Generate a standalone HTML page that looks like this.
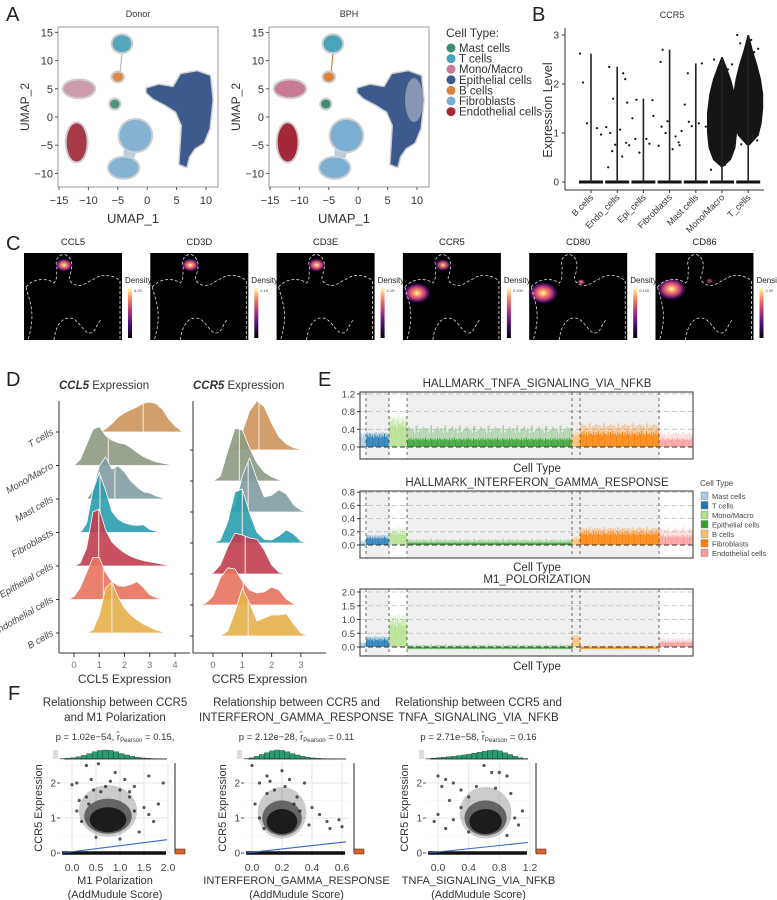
<!DOCTYPE html>
<html><head><meta charset="utf-8">
<style>
body{margin:0;background:#fff;}
svg{display:block;font-family:"Liberation Sans",sans-serif;}
</style></head>
<body>
<svg id="fig" width="777" height="900" viewBox="0 0 777 900">
<defs>
<radialGradient id="hot">
<stop offset="0" stop-color="#fcfdbf"/><stop offset="0.3" stop-color="#fc8961"/><stop offset="0.6" stop-color="#b73779"/><stop offset="0.85" stop-color="#51127c" stop-opacity="0.6"/><stop offset="1" stop-color="#000" stop-opacity="0"/>
</radialGradient>
<linearGradient id="magma" x1="0" y1="1" x2="0" y2="0">
<stop offset="0" stop-color="#000004"/><stop offset="0.3" stop-color="#51127c"/><stop offset="0.55" stop-color="#b73779"/><stop offset="0.8" stop-color="#fc8961"/><stop offset="1" stop-color="#fcfdbf"/>
</linearGradient>
</defs>
<text x="6" y="21" font-size="20" fill="#222">A</text>
<text x="532" y="21" font-size="20" fill="#222">B</text>
<text x="6" y="250" font-size="20" fill="#222">C</text>
<text x="6" y="386" font-size="20" fill="#222">D</text>
<text x="318" y="386" font-size="20" fill="#222">E</text>
<text x="8" y="700" font-size="20" fill="#222">F</text>
</svg>
<script>
const NS='http://www.w3.org/2000/svg';
const svg=document.getElementById('fig');
function mk(tag,attrs,parent){const e=document.createElementNS(NS,tag);for(const k in attrs)e.setAttribute(k,attrs[k]);(parent||svg).appendChild(e);return e;}
function tx(s,attrs,parent){const e=mk('text',attrs,parent);e.textContent=s;return e;}

/* ---------------- Panel A data ---------------- */
const umapTypes=['Mast cells','T cells','Mono/Macro','Epithelial cells','B cells','Fibroblasts','Endothelial cells'];
const umapColors=['#3e8e6e','#4aa3ba','#c97a96','#3d5a8c','#d9823b','#7baed3','#a3283a'];
const umapXTicks=[-15,-10,-5,0,5,10];
const umapYTicks=[15,10,5,0,-5,-10];
const clusterType=[1,4,2,0,6,5,5];
const clusterX=[-4.3,-5,-11.6,-5.5,-12,-2,-4];
const clusterY=[13,7.1,5,2.3,-4.5,-3.3,-9];
const clusterRX=[1.6,0.9,2.6,0.8,1.7,2.7,2.5];
const clusterRY=[1.5,0.8,1.5,0.8,3.4,2.8,1.8];
const epiX=[0,2,4.5,5.8,8.5,10.6,11,10.5,9.5,8,7,6.6,5.6,5.8,6,5,3,1,0];
const epiY=[5,5.6,5.2,7.5,8,7.2,3,-2,-4.5,-5.5,-7,-8.7,-8.3,-5,-1.5,1,2.3,3.4,4.4];

function drawUmap(ox,title,donor){
  const g=mk('g',{});
  
  
  const sx=v=>ox+1+(v+15)*5.88, sy=v=>117-v*5.64;
  mk('rect',{x:ox,y:27,width:160,height:160,fill:'#fff',stroke:'#9a9a9a','stroke-width':1},g);
  const t=tx(title,{x:ox+80,y:17,'font-size':9,'text-anchor':'middle',fill:'#333'},g);
  
  
  mk('ellipse',{cx:sx(-3),cy:sy(-6.3),rx:6,ry:9,fill:'#b9cfe0'},g);
  mk('line',{x1:sx(-4.6),y1:sy(8),x2:sx(-4.3),y2:sy(11.3),stroke:donor?'#bbb':'#d9823b','stroke-width':1.2},g);
  for(let i=0;i<clusterX.length;i++){
    mk('ellipse',{cx:sx(clusterX[i]),cy:sy(clusterY[i]),rx:clusterRX[i]*5.88+2,ry:clusterRY[i]*5.64+2,fill:'#cfcfcf'},g);
    const e=mk('ellipse',{cx:sx(clusterX[i]),cy:sy(clusterY[i]),rx:clusterRX[i]*5.88,ry:clusterRY[i]*5.64,fill:umapColors[clusterType[i]],opacity:(donor&&clusterType[i]===2)?0.6:(donor?0.9:1)},g);
    
    
  }
  const pts=epiX.map((x,i)=>sx(x).toFixed(1)+','+sy(epiY[i]).toFixed(1)).join(' ');
  mk('polygon',{points:pts,fill:'#cfcfcf',stroke:'#cfcfcf','stroke-width':4,'stroke-linejoin':'round'},g);
  const ep=mk('polygon',{points:pts,fill:umapColors[3],stroke:umapColors[3],'stroke-width':1,'stroke-linejoin':'round'},g);
  
  
  if(!donor){ mk('ellipse',{cx:sx(9.5),cy:sy(3),rx:9,ry:22,fill:'#c4c8d2',opacity:0.55},g); }
  umapXTicks.forEach(v=>{
    mk('line',{x1:sx(v),y1:187,x2:sx(v),y2:190,stroke:'#555'},g);
    const l=tx(v<0?'\u2212'+(-v):String(v),{x:sx(v),y:204,'font-size':11,'text-anchor':'middle',fill:'#333'},g);
    
    
  });
  umapYTicks.forEach(v=>{
    mk('line',{x1:ox-3,y1:sy(v),x2:ox,y2:sy(v),stroke:'#555'},g);
    const l=tx(v<0?'\u2212'+(-v):String(v),{x:ox-5,y:sy(v)+4,'font-size':11,'text-anchor':'end',fill:'#333'},g);
    
    
  });
  const xl=tx('UMAP_1',{x:ox+75,y:223,'font-size':13,'text-anchor':'middle',fill:'#333'},g);
  
  
  const yl=tx('UMAP_2',{x:0,y:0,'font-size':12,'text-anchor':'middle',fill:'#333',transform:`translate(${ox-29},107) rotate(-90)`},g);
  
  
}
drawUmap(58,'Donor',true);
drawUmap(269,'BPH',false);
{
  const g=mk('g',{});
  
  
  tx('Cell Type:',{x:446,y:37,'font-size':12,fill:'#333'},g);
  umapTypes.forEach((t,i)=>{
    mk('circle',{cx:451,cy:48+i*10.6,r:4.5,fill:umapColors[i]},g);
    const l=tx(t,{x:459,y:52+i*10.6,'font-size':11.5,fill:'#333'},g);
    
    
  });
}

/* ---------------- Panel B data ---------------- */
const bCats=['B cells','Endo_cells','Epi_cells','Fibroblasts','Mast cells','Mono/Macro','T_cells'];
const bMax=[2.62,2.35,1.70,2.70,2.42,2.55,3.0];
const bPoints=[[2.03,1.1,1.2,0.97,2.62],[2.35,2.22,1.7,1.62,1.12,1.07,1.0,0.8,0.76,0.75,0.3,0.52,0.63,2.1],[0.88,0.78,0.6,1.35,1.3,0.88,1.68,1.67],[1.13,0.93,1.0,0.75,0.74,0.67,2.7,0.81,1.24,1.04,2.45],[2.22,2.42,1.14,1.13,1.58,1.2,1.23],[2.5,2.3,2.2,2.4,0.25,0.35],[2.83,2.65,2.55,2.72,3.0,2.9,0.77,0.85]];
const monoLevels=[0.3,0.45,0.7,1.0,1.4,1.8,2.1,2.35,2.55];
const monoDensity=[0.05,0.6,0.9,1,1,0.85,0.6,0.3,0.05];
const tLevels=[0.75,0.95,1.2,1.5,1.8,2.1,2.4,2.7,3.0];
const tDensity=[0.1,0.7,0.9,1,1,0.85,0.6,0.3,0.05];
const bYTicks=[0,1,2,3];
{
  const g=mk('g',{});
  
  
  const bx=i=>591+i*26.2, by=v=>182-v*49;
  tx('CCR5',{x:672,y:18,'font-size':9,'text-anchor':'middle',fill:'#333'},g);
  mk('line',{x1:565,y1:28,x2:565,y2:190,stroke:'#333'},g);
  mk('line',{x1:565,y1:190,x2:764,y2:190,stroke:'#333'},g);
  bYTicks.forEach(v=>{
    mk('line',{x1:562,y1:by(v),x2:565,y2:by(v),stroke:'#333'},g);
    tx(String(v),{x:559,y:by(v)+3.5,'font-size':10,'text-anchor':'end',fill:'#333'},g);
  });
  const yl=tx('Expression Level',{x:0,y:0,'font-size':12.5,'text-anchor':'middle',fill:'#333',transform:'translate(552,110) rotate(-90)'},g);
  
  
  function cloud(i,levels,dens){
    const L=levels.map((v,k)=>(bx(i)-15*dens[k]).toFixed(1)+','+by(v).toFixed(1));
    const R=levels.map((v,k)=>(bx(i)+15*dens[k]).toFixed(1)+','+by(v).toFixed(1)).reverse();
    const p=mk('polygon',{points:L.concat(R).join(' '),fill:'#151515'},g);
    
    
  }
  cloud(5,monoLevels,monoDensity);
  cloud(6,tLevels,tDensity);
  bCats.forEach((c,i)=>{
    mk('line',{x1:bx(i)-12,y1:by(0),x2:bx(i)+12,y2:by(0),stroke:'#111','stroke-width':3},g);
    const v=mk('line',{x1:bx(i),y1:by(0),x2:bx(i),y2:by(bMax[i]),stroke:'#222','stroke-width':1.6},g);
    
    
    bPoints[i].forEach((p,k)=>{
      const dx=[-8,6,-4,10,-11,3,-7,9,-2,12,-9,5,-5,8][k%14];
      mk('circle',{cx:bx(i)+dx,cy:by(p),r:1.1,fill:'#111'},g);
    });
    mk('line',{x1:bx(i),y1:190,x2:bx(i),y2:193,stroke:'#333'},g);
    const l=tx(c,{x:0,y:0,'font-size':9,'text-anchor':'end',fill:'#333',transform:`translate(${bx(i)+3},198) rotate(-45)`},g);
    
    
  });
}

/* ---------------- Panel C data ---------------- */
const cGenes=['CCL5','CD3D','CD3E','CCR5','CD80','CD86'];
const cMax=['0.20','0.15','0.15','0.100','0.100','0.09'];
const cSpotX=[[40],[40],[40],[40,14],[14,52],[16,54]];
const cSpotY=[[12],[12],[12],[12,40],[40,29],[36,28]];
const cSpotR=[[9],[9],[9],[8,14],[15,4],[15,4]];
const cSpotI=[[1],[1],[1],[0.9,1],[1,0.8],[1,0.5]];
{
  cGenes.forEach((gn,i)=>{
    const ox=24+i*126.3, oy=253;
    const g=mk('g',{});
    
    
    tx(gn,{x:ox+49,y:245,'font-size':9.5,'text-anchor':'middle',fill:'#222'},g);
    mk('rect',{x:ox,y:oy,width:98,height:87,fill:'#000'},g);
    cSpotX[i].forEach((sx,k)=>{
      const r=cSpotR[i][k];
      mk('ellipse',{cx:ox+sx,cy:oy+cSpotY[i][k],rx:r,ry:r*0.75,fill:'url(#hot)',opacity:cSpotI[i][k]},g);
    });
    mk('path',{d:'M2,34 C8,26 22,24 30,30 C34,26 32,20 33,14 C30,6 36,0 42,2 C50,6 48,16 46,22 C44,26 46,30 52,32 C60,34 64,28 70,26 C78,20 90,22 96,28 L96,87 M2,34 C6,50 12,60 4,87 M30,87 C32,70 40,62 50,66 C58,72 60,80 66,80 C72,80 72,70 78,66',transform:`translate(${ox},${oy})`,fill:'none',stroke:'#ddd','stroke-width':0.8,'stroke-dasharray':'3,2'},g);
    tx('Density',{x:ox+101,y:283,'font-size':8,fill:'#222'},g);
    mk('rect',{x:ox+104,y:288,width:4,height:50,fill:'url(#magma)'},g);
    tx(cMax[i],{x:ox+110,y:292,'font-size':4,fill:'#444'},g);
  });
}

/* ---------------- Panel D data ---------------- */
const ridgeCats=['T cells','Mono/Macro','Mast cells','Fibroblasts','Epithelial cells','Endothelial cells','B cells'];
const ridgeColors=['#cd955c','#8d9a84','#7f9ca2','#2a9fae','#c13d50','#e8735e','#e6b04a'];
const ccl5Grid=[-0.5,-0.25,0,0.25,0.5,0.75,1,1.25,1.5,1.75,2,2.25,2.5,2.75,3,3.25,3.5,3.75,4,4.25,4.5];
const ccl5Dens=[
[0,0,0,0,0,0,0,0.05,0.14,0.25,0.32,0.37,0.42,0.48,0.5,0.47,0.38,0.22,0.1,0.02,0],
[0,0,0,0.1,0.35,0.6,0.65,0.5,0.42,0.38,0.36,0.3,0.22,0.15,0.1,0.06,0.04,0.02,0,0,0],
[0,0,0,0,0,0.15,0.55,0.7,0.5,0.55,0.45,0.3,0.2,0.12,0.1,0.05,0.02,0,0,0,0],
[0,0,0,0,0.15,0.7,1.0,0.7,0.35,0.22,0.16,0.13,0.12,0.13,0.05,0.02,0,0,0,0,0],
[0,0,0,0.05,0.3,0.9,0.95,0.6,0.4,0.3,0.22,0.16,0.12,0.09,0.07,0.05,0.03,0.01,0,0,0],
[0,0,0.05,0.2,0.45,0.7,0.7,0.45,0.3,0.23,0.22,0.25,0.3,0.2,0.08,0.03,0.01,0,0,0,0],
[0,0,0,0,0,0.05,0.3,0.75,0.85,0.6,0.42,0.3,0.22,0.15,0.1,0.05,0.02,0,0,0,0]];
const ccl5Median=[2.74,1.36,1.62,1.03,0.98,1.16,1.5];
const ccr5Grid=[-0.5,-0.25,0,0.25,0.5,0.75,1,1.25,1.5,1.75,2,2.25,2.5,2.75,3,3.25,3.5];
const ccr5Dens=[
[0,0,0,0,0,0.06,0.3,0.65,0.82,0.72,0.45,0.22,0.1,0.04,0.01,0,0],
[0,0,0,0.08,0.5,0.88,0.85,0.55,0.3,0.15,0.07,0.02,0,0,0,0,0],
[0,0,0,0,0,0.1,0.6,0.9,0.55,0.25,0.28,0.37,0.3,0.12,0.03,0,0],
[0,0,0,0.05,0.35,0.85,0.9,0.5,0.18,0.06,0.05,0.12,0.22,0.15,0.03,0,0],
[0,0,0.02,0.15,0.45,0.68,0.65,0.6,0.58,0.4,0.15,0.03,0,0,0,0,0],
[0,0.03,0.15,0.45,0.62,0.6,0.4,0.25,0.2,0.22,0.3,0.25,0.1,0.02,0,0,0],
[0,0,0,0,0.08,0.4,0.8,0.55,0.25,0.3,0.35,0.35,0.37,0.2,0.05,0,0]];
const ccr5Median=[1.57,0.9,1.2,1.0,1.1,1.03,1.2];
const ccl5Ticks=[0,1,2,3,4];
const ccr5Ticks=[0,1,2,3];
function drawRidges(name,grid,dens,med,ticks,x0,unit,base0,step,axisX,axisR,title,xTitle,showCats){
  const g=mk('g',{});
  
  
  function px(v){return Number(x0)+Number(unit)*Number(v);}
  const ttl=tx('',{x:axisX,y:389,'font-size':11.5,fill:'#333'},g);
  const ti=mk('tspan',{'font-style':'italic','font-weight':'bold'},ttl); ti.textContent=title;
  const t2=mk('tspan',{},ttl); t2.textContent=' Expression';
  mk('line',{x1:axisX,y1:401,x2:axisX,y2:653,stroke:'#333'},g);
  mk('line',{x1:axisX,y1:653,x2:axisR,y2:653,stroke:'#333'},g);
  for(let r=0;r<dens.length;r++){
    const row=dens[r];
    const base=Number(base0)+r*Number(step);
    const ptsArr=[];
    ptsArr.push(px(grid[0]).toFixed(1)+','+base.toFixed(1));
    for(let j=0;j<row.length;j++){
      ptsArr.push(px(grid[j]).toFixed(1)+','+(base-Number(row[j])*60).toFixed(1));
    }
    ptsArr.push(px(grid[grid.length-1]).toFixed(1)+','+base.toFixed(1));
    const poly=mk('polygon',{points:ptsArr.join(' '),fill:ridgeColors[r],'fill-opacity':0.9,stroke:'#ffffff','stroke-width':0.8,'stroke-linejoin':'round'},g);
    
    
    let j=0;
    while(j<grid.length-2 && grid[j+1]<med[r]) j++;
    const frac=Math.max(0,Math.min(1,(med[r]-grid[j])/(grid[j+1]-grid[j])));
    let hh=(Number(row[j])+(Number(row[j+1])-Number(row[j]))*frac)*60;
    if(!isFinite(hh)||hh<0) hh=0;
    if(hh>65) hh=65;
    mk('line',{x1:px(med[r]).toFixed(1),y1:base.toFixed(1),x2:px(med[r]).toFixed(1),y2:(base-hh).toFixed(1),stroke:'#f4e8d8','stroke-width':1.2,opacity:0.9},g);
    mk('line',{x1:axisX-3,y1:base,x2:axisX,y2:base,stroke:'#333'},g);
    if(showCats){
      const l=tx(ridgeCats[r],{x:0,y:0,'font-size':9.5,'font-style':'italic','text-anchor':'end',fill:'#444',transform:`translate(${axisX-5},${base+2}) rotate(-30)`},g);
      
      
    }
  }
  ticks.forEach(v=>{
    mk('line',{x1:px(v),y1:653,x2:px(v),y2:657,stroke:'#333'},g);
    tx(String(v),{x:px(v),y:668,'font-size':9.5,'text-anchor':'middle',fill:'#777'},g);
  });
  tx(xTitle,{x:(axisX+axisR)/2,y:683,'font-size':12,'text-anchor':'middle',fill:'#333'},g);
}
drawRidges('ccl5-ridgeline',ccl5Grid,ccl5Dens,ccl5Median,ccl5Ticks,74,25.25,432,33.5,59,190,'CCL5','CCL5 Expression',true);
drawRidges('ccr5-ridgeline',ccr5Grid,ccr5Dens,ccr5Median,ccr5Ticks,213,29.3,450,31,193,326,'CCR5','CCR5 Expression',false);

/* ---------------- Panel E data ---------------- */
const eTypes=['Mast cells','T cells','Mono/Macro','Epithelial cells','B cells','Fibroblasts','Endothelial cells'];
const eColors=['#a6cee3','#1f78b4','#b2df8a','#33a02c','#fdbf6f','#ff7f00','#fb9a99'];
const eCounts=[6,23,18,165,8,79,34];
const eShaded=[0,1,0,1,1,1,0];
const tnfaTicks=[0.0,0.4,0.8,1.2];
const tnfaBand=[0.3,0.28,0.6,0.2,0.3,0.35,0.2];
const tnfaPeak=[0.35,0.4,0.85,0.8,0.45,0.75,0.5];
const ifngTicks=[0.0,0.2,0.4,0.6,0.8];
const ifngBand=[0.05,0.12,0.2,0.04,0.1,0.2,0.15];
const ifngPeak=[0.1,0.2,0.35,0.15,0.2,0.35,0.4];
const m1Ticks=[0.0,0.5,1.0,1.5,2.0];
const m1Band=[0.15,0.3,1.0,-0.08,0.4,-0.08,0.2];
const m1Peak=[0.25,0.5,1.4,0.2,0.5,0.15,0.5];
const spikeShape=[0.35,0.8,0.5,1,0.45,0.7,0.3,0.9,0.55,0.65,0.4,0.85];
function drawE(name,top,bottom,zeroY,unitPx,ticks,band,peak,title,titleY,labelY){
  const L=360,R=693;
  const g=mk('g',{});
  
  
  tx(title,{x:537,y:titleY,'font-size':11.5,'text-anchor':'middle',fill:'#333'},g);
  mk('rect',{x:L,y:top,width:R-L,height:bottom-top,fill:'#fff'},g);
  const total=eCounts.reduce((a,b)=>a+b,0);
  let cum=0; const bounds=[];
  eCounts.forEach(c=>{bounds.push([L+cum/total*(R-L),L+(cum+c)/total*(R-L)]);cum+=c;});
  bounds.forEach((b,i)=>{ if(eShaded[i]) mk('rect',{x:b[0],y:top,width:b[1]-b[0],height:bottom-top,fill:'#efefef'},g); });
  const sy=v=>zeroY-v*unitPx;
  ticks.forEach(v=>{
    mk('line',{x1:L,y1:sy(v),x2:R,y2:sy(v),stroke:v===0?'#333':'#bdbdbd','stroke-dasharray':'5,3','stroke-width':v===0?1:0.8},g);
  });
  bounds.forEach((b,i)=>{
    let k=0;
    for(let x=b[0]+0.5;x<b[1];x+=1.2){
      const s=spikeShape[k%12], s2=spikeShape[(k*5+3)%12]; k++;
      const hi=band[i]>=0? band[i]+(peak[i]-band[i])*s*s2 : peak[i]*s*s2;
      mk('line',{x1:x,y1:zeroY,x2:x,y2:sy(hi),stroke:eColors[i],'stroke-width':1,opacity:0.35},g);
      const lo=band[i]*(0.6+0.45*s);
      mk('line',{x1:x,y1:zeroY,x2:x,y2:sy(lo),stroke:eColors[i],'stroke-width':1.1,opacity:0.9},g);
    }
    const seg=mk('rect',{x:b[0],y:Math.min(zeroY,sy(band[i])),width:b[1]-b[0],height:0.01,fill:eColors[i]},g);
    
    
  });
  mk('line',{x1:L,y1:zeroY,x2:R,y2:zeroY,stroke:'#333','stroke-dasharray':'5,3','stroke-width':1},g);
  bounds.slice(1).forEach(b=>{
    mk('line',{x1:b[0],y1:top,x2:b[0],y2:bottom,stroke:'#555','stroke-dasharray':'3,3','stroke-width':0.9},g);
  });
  mk('rect',{x:L,y:top,width:R-L,height:bottom-top,fill:'none',stroke:'#555','stroke-width':1.2},g);
  ticks.forEach(v=>{
    mk('line',{x1:L-3,y1:sy(v),x2:L,y2:sy(v),stroke:'#333'},g);
    const l=tx(v.toFixed(1),{x:L-5,y:sy(v)+3.5,'font-size':9.5,'text-anchor':'end',fill:'#444'},g);
    
    
  });
  tx('Cell Type',{x:537,y:labelY,'font-size':11.5,'text-anchor':'middle',fill:'#333'},g);
}
drawE('tnfa-score-plot',392,459,447,44.2,tnfaTicks,tnfaBand,tnfaPeak,'HALLMARK_TNFA_SIGNALING_VIA_NFKB',387,472);
drawE('ifng-score-plot',491,558,545,66,ifngTicks,ifngBand,ifngPeak,'HALLMARK_INTERFERON_GAMMA_RESPONSE',486,571);
drawE('m1-score-plot',589,656,647,27.5,m1Ticks,m1Band,m1Peak,'M1_POLORIZATION',583,670);
{
  const g=mk('g',{});
  
  
  tx('Cell Type',{x:700,y:486,'font-size':8,fill:'#444'},g);
  eTypes.forEach((t,i)=>{
    mk('rect',{x:701,y:492+i*9.5,width:7,height:7.5,fill:eColors[i],stroke:'#777','stroke-width':0.4},g);
    const l=tx(t,{x:712,y:499+i*9.5,'font-size':7.5,fill:'#444'},g);
    
    
  });
}

/* ---------------- Panel F data ---------------- */
const f1Ticks=[0.0,0.5,1.0,1.5,2.0];
const f2Ticks=[0.0,0.2,0.4,0.6];
const f3Ticks=[0.0,0.4,0.8,1.2];
const fYTicks=[0,1,2];
const f1Hist=[0.05,0.1,0.15,0.25,0.4,0.6,0.8,0.95,1,0.95,0.8,0.6,0.45,0.3,0.2,0.12,0.08,0.05,0.02,0.01];
const f2Hist=[0.05,0.15,0.3,0.5,0.7,0.9,1,0.95,0.8,0.6,0.45,0.3,0.2,0.12,0.08,0.05,0.03,0.02,0.01,0.01];
const f3Hist=[0.05,0.1,0.15,0.2,0.25,0.3,0.38,0.45,0.55,0.65,0.75,0.85,0.95,1,0.9,0.7,0.5,0.3,0.15,0.05];
const f1Points=[[0.0,1.95],[0.1,2.0],[0.3,2.5],[0.55,2.55],[0.9,2.3],[1.6,2.2],[1.9,2.0],[0.4,2.1],[0.7,1.9],[1.3,1.9],[1.5,1.3],[1.6,1.1],[1.7,0.9],[0.2,0.9],[0.1,1.2],[0.3,1.6],[1.2,1.6],[0.5,0.45],[1.0,0.4],[1.4,0.6],[0.8,2.05],[1.1,2.1],[0.15,1.5],[1.8,1.4],[0.45,1.8],[0.6,1.75],[1.0,1.8],[1.2,1.75],[0.35,1.4],[1.3,1.2]];
const f2Points=[[0.0,2.5],[0.05,2.0],[0.1,2.2],[0.2,2.35],[0.25,2.1],[0.35,2.0],[0.3,1.6],[0.4,1.3],[0.45,1.1],[0.5,0.9],[0.58,0.95],[0.6,0.75],[0.52,0.7],[0.02,1.4],[0.05,1.0],[0.08,0.7],[0.15,1.8],[0.28,1.4],[0.12,2.05],[0.38,0.8],[0.1,1.7],[0.22,1.9],[0.32,1.2]];
const f3Points=[[0.0,2.2],[0.05,1.9],[0.1,2.1],[0.2,2.0],[0.3,1.8],[0.7,2.3],[0.8,2.3],[0.9,2.2],[0.6,2.5],[0.95,1.7],[1.1,1.2],[1.0,1.0],[1.05,0.8],[-0.05,0.9],[0.0,1.1],[0.1,0.7],[0.2,0.95],[0.3,1.3],[0.4,0.6],[0.9,0.5],[0.15,1.5],[0.5,1.9],[0.75,1.85],[0.4,1.6]];
const fCloudCenter=[[0.75,1.0],[0.2,0.95],[0.62,0.95]];
const fCloudSpread=[[0.45,0.42],[0.12,0.42],[0.25,0.42]];
const fSlopeEnd=[0.38,0.32,0.3];
const fTitles=[['Relationship between CCR5','and M1 Polarization'],['Relationship between CCR5 and','INTERFERON_GAMMA_RESPONSE'],['Relationship between CCR5 and','TNFA_SIGNALING_VIA_NFKB']];
const fStats=['p = 1.02e\u221254, ','p = 2.12e\u221228, ','p = 2.71e\u221258, '];
const fR=['0.15,','0.11','0.16'];
const fXNames=[['M1 Polarization','(AddMudule Score)'],['INTERFERON_GAMMA_RESPONSE','(AddMudule Score)'],['TNFA_SIGNALING_VIA_NFKB','(AddMudule Score)']];
function drawF(idx,x0,unit,left,right,ticks,hist,points){
  const g=mk('g',{});
  
  
  const sx=v=>x0+unit*v, sy=v=>853-35*v;
  const cx=(left+right)/2;
  tx(fTitles[idx][0],{x:cx,y:706,'font-size':11.5,'text-anchor':'middle',fill:'#333'},g);
  tx(fTitles[idx][1],{x:cx,y:721,'font-size':11.5,'text-anchor':'middle',fill:'#333'},g);
  const st=tx(fStats[idx],{x:cx,y:740,'font-size':9.5,'text-anchor':'middle',fill:'#333'},g);
  const s1=mk('tspan',{},st); s1.textContent='r\u0302';
  const s2=mk('tspan',{'font-size':6,dy:2},st); s2.textContent='Pearson';
  const s3=mk('tspan',{dy:-2},st); s3.textContent=' = '+fR[idx];
  for(let v=0;v<=2.5;v+=0.5) mk('line',{x1:left,y1:sy(v),x2:right,y2:sy(v),stroke:v%1===0?'#e6e6e6':'#f2f2f2','stroke-width':v%1===0?1:0.6},g);
  ticks.forEach(v=>mk('line',{x1:sx(v),y1:762,x2:sx(v),y2:858,stroke:'#e6e6e6'},g));
  const bw=(right-3-left)/hist.length;
  hist.forEach((h,i)=>{
    const b=mk('rect',{x:left+i*bw,y:759-h*9,width:bw,height:h*9,fill:'#2a9d6e',stroke:'#1a1a1a','stroke-width':0.3},g);
    
    
  });
  mk('line',{x1:left+4,y1:759,x2:right-3,y2:759,stroke:'#222','stroke-width':0.8},g);
  mk('rect',{x:left-7,y:750,width:5,height:9,fill:'#ddd'},g);
  const c=fCloudCenter[idx], s=fCloudSpread[idx];
  mk('ellipse',{cx:sx(c[0]),cy:sy(c[1]+0.2),rx:unit*s[0]*1.35,ry:35*s[1]*1.75,fill:'#444',opacity:0.28},g);
  mk('ellipse',{cx:sx(c[0]),cy:sy(c[1]+0.05),rx:unit*s[0]*1.1,ry:35*s[1]*1.2,fill:'#222',opacity:0.6},g);
  const cl=mk('ellipse',{cx:sx(c[0]),cy:sy(c[1]-0.05),rx:unit*s[0]*0.85,ry:35*s[1]*0.85,fill:'#141414',opacity:0.9},g);
  
  
  points.forEach(p=>{
    const d=mk('circle',{cx:sx(p[0]),cy:sy(p[1]),r:1.6,fill:'#222',opacity:0.75},g);
    
    
  });
  mk('line',{x1:left+2,y1:sy(0),x2:right-4,y2:sy(0),stroke:'#111','stroke-width':3.5},g);
  const reg=mk('line',{x1:left+2,y1:sy(0),x2:right-3,y2:sy(fSlopeEnd[idx]),stroke:'#3b63c4','stroke-width':1.1},g);
  
  
  mk('line',{x1:right+5,y1:763,x2:right+5,y2:853,stroke:'#222','stroke-width':1},g);
  mk('rect',{x:right+5,y:849,width:10,height:5,fill:'#e0622a',stroke:'#222','stroke-width':0.5},g);
  fYTicks.forEach(v=>{
    mk('line',{x1:left-3,y1:sy(v),x2:left,y2:sy(v),stroke:'#555'},g);
    tx(String(v),{x:left-4,y:sy(v)+3.5,'font-size':10,'text-anchor':'end',fill:'#444'},g);
  });
  ticks.forEach(v=>{
    const l=tx(v.toFixed(1),{x:sx(v),y:871,'font-size':10.5,'text-anchor':'middle',fill:'#444'},g);
    
    
  });
  tx('CCR5 Expression',{x:0,y:0,'font-size':11,'text-anchor':'middle',fill:'#333',transform:`translate(${left-18},808) rotate(-90)`},g);
  tx(fXNames[idx][0],{x:cx,y:884,'font-size':11,'text-anchor':'middle',fill:'#333'},g);
  tx(fXNames[idx][1],{x:cx,y:898,'font-size':11,'text-anchor':'middle',fill:'#333'},g);
}
drawF(0,72,48,60,170,f1Ticks,f1Hist,f1Points);
drawF(1,252,150,244,349,f2Ticks,f2Hist,f2Points);
drawF(2,438,76.7,426,531,f3Ticks,f3Hist,f3Points);
</script>
</body></html>
